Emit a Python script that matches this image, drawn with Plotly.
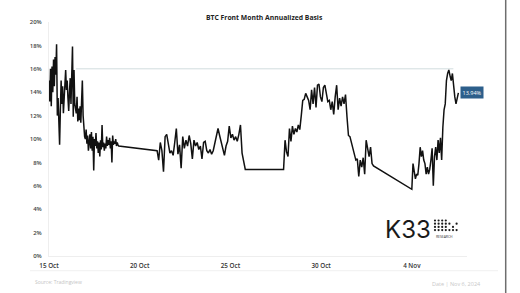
import pandas as pd
import plotly.graph_objects as go

# ---------------- data ----------------
seg1_start, seg1_end = "2024-10-15 00:00", "2024-10-18 20:15"
seg1_values = [15.0, 13.2, 16.0, 12.8, 16.2, 14.0, 16.8, 14.5, 17.0, 15.5, 18.1,
               12.0, 13.5, 11.0, 9.5, 12.5, 15.0, 13.0, 14.5, 12.2, 13.5,
               14.8, 15.9, 14.2, 15.0, 13.5, 12.4, 14.0, 15.2, 13.0, 16.5,
               17.9, 11.9, 15.9, 13.0, 12.7, 12.2, 13.6, 11.5, 12.6, 11.6,
               12.8, 11.4, 13.2, 15.0, 12.0, 10.7, 10.2, 10.0, 10.8, 9.6,
               10.3, 9.0, 9.7, 10.4, 9.2, 10.6, 9.0, 10.2, 7.3, 10.0,
               9.4, 10.5, 9.2, 9.8, 8.8, 9.7, 8.5, 9.9, 9.1, 11.2,
               9.3, 9.7, 9.0, 9.6, 9.2, 10.2, 9.4, 9.9, 9.5, 10.1,
               9.2, 9.8, 8.0, 10.3, 9.5, 9.8, 9.6, 10.0, 9.4, 9.7, 9.5, 9.4]

seg2_start, seg2_end = "2024-10-20 23:00", "2024-10-25 19:40"
seg2_values = [9.0, 8.2, 9.7, 9.0, 7.2, 10.2, 10.4, 9.6, 8.8, 9.0, 8.6, 9.7,
               10.9, 8.7, 9.5, 7.5, 10.2, 9.2, 9.9, 9.4, 10.3, 9.6, 8.3, 9.9,
               9.4, 9.7, 9.1, 9.4, 8.3, 9.7, 9.8, 9.0, 8.8, 9.1, 8.7, 9.0,
               9.7, 10.1, 10.9, 10.3, 9.7, 9.3, 8.6, 9.4, 9.8, 11.1, 10.1,
               10.4, 9.9, 10.2, 9.8, 10.4, 11.2, 8.8, 8.2, 7.4]

seg3_start, seg3_end = "2024-10-27 22:20", "2024-11-01 21:20"
seg3_values = [7.4, 9.9, 8.9, 8.5, 10.9, 9.8, 11.1, 10.4, 10.9, 10.6, 11.2,
               10.8, 12.0, 13.3, 13.4, 13.9, 13.6, 13.3, 12.5, 14.2, 13.0,
               14.4, 12.7, 14.6, 14.7, 13.6, 13.2, 14.4, 14.6, 13.7, 13.2,
               13.3, 12.5, 13.2, 12.1, 13.6, 14.6, 12.5, 13.5, 12.8, 13.6,
               13.0, 13.8, 11.9, 10.3, 10.2, 9.7, 9.2, 8.8, 8.2, 8.3, 6.8,
               8.2, 7.6, 8.4, 7.0, 9.9, 9.2, 8.5, 9.3, 7.9, 7.7]

seg4_start, seg4_end = "2024-11-04 00:00", "2024-11-06 13:36"
seg4_values = [5.7, 7.9, 7.1, 6.6, 7.0, 6.9, 7.9, 9.3, 8.5, 9.0, 8.2, 7.9,
               7.0, 7.6, 7.0, 7.4, 8.2, 9.2, 6.0, 8.5, 9.3, 8.2, 9.9, 8.8,
               10.1, 8.2, 11.0, 12.5, 13.0, 15.0, 15.6, 15.9, 15.4, 15.0,
               15.6, 14.5, 13.6, 13.0, 13.5, 13.94]

ref_level = 16.0
ref_start, ref_end = "2024-10-16 11:40", "2024-11-06 07:00"
last_label = "13.94%"

y_ticks = list(range(0, 21, 2))
y_tick_text = [f"{v}%" for v in y_ticks]
x_ticks = ["2024-10-15", "2024-10-20", "2024-10-25", "2024-10-30", "2024-11-04"]
x_tick_text = ["15 Oct", "20 Oct", "25 Oct", "30 Oct", "4 Nov"]
x_range = ["2024-10-15 00:00", "2024-11-07 01:00"]

title = "BTC Front Month Annualized Basis"
source = "Source: Tradingview"
date_note = "Date | Nov 6, 2024"

# logo dot pattern (rows of the K33 Research mark)
logo_rows = ["1111000", "1111101", "1111010", "1111111"]

# ---------------- build series ----------------
segs = [(seg1_start, seg1_end, seg1_values), (seg2_start, seg2_end, seg2_values),
        (seg3_start, seg3_end, seg3_values), (seg4_start, seg4_end, seg4_values)]
xs, ys = [], []
for s, e, v in segs:
    xs.extend(pd.date_range(s, e, periods=len(v)))
    ys.extend(v)

W, H = 520, 293
L, R, T, B = 49, 53, 22, 37
pw, ph = W - L - R, H - T - B


def px(x):
    return (x - L) / pw


def py(y):
    return 1 - (y - T) / ph


FONT = "Open Sans"

fig = go.Figure()
fig.add_trace(go.Scatter(x=xs, y=ys, mode="lines",
                         line=dict(color="#111111", width=1.5),
                         hoverinfo="skip", showlegend=False))

fig.add_shape(type="line", xref="x", yref="y", x0=ref_start, x1=ref_end,
              y0=ref_level, y1=ref_level,
              line=dict(color="#c5d3d6", width=0.8), layer="below")

# last value label
fig.add_annotation(x=xs[-1], y=ys[-1], xref="x", yref="y", text=last_label,
                   showarrow=False, xanchor="left", xshift=2,
                   bgcolor="#2d5f8b", borderpad=1.5,
                   font=dict(family=FONT, size=5.5, color="white"))

# title
fig.add_annotation(x=px(264), y=py(17), xref="paper", yref="paper",
                   text=title, showarrow=False, xanchor="center", yanchor="middle",
                   font=dict(family=FONT, size=6.8, color="#222222", weight=700))

fig.add_annotation(x=px(33), y=py(282), xref="paper", yref="paper", text=source,
                   showarrow=False, xanchor="left", yanchor="middle",
                   font=dict(family=FONT, size=5, color="#c4c4c4"))
fig.add_annotation(x=px(483), y=py(284), xref="paper", yref="paper", text=date_note,
                   showarrow=False, xanchor="right", yanchor="middle",
                   font=dict(family=FONT, size=5.5, color="#c8c8c8"))

# K33 logo
fig.add_annotation(x=px(383), y=py(229), xref="paper", yref="paper", text="K33",
                   showarrow=False, xanchor="left", yanchor="middle",
                   font=dict(family="Inter", size=24, color="#1a1a1a", weight=400))
dot_r = 1.1
for ri, row in enumerate(logo_rows):
    for ci, c in enumerate(row):
        if c == "1":
            cx = 435 + ci * 3.6
            cy = 220.5 + ri * 3.2
            fig.add_shape(type="circle", xref="paper", yref="paper",
                          x0=px(cx - dot_r), x1=px(cx + dot_r),
                          y0=py(cy + dot_r), y1=py(cy - dot_r),
                          fillcolor="#1a1a1a", line=dict(width=0))
fig.add_annotation(x=px(434), y=py(236.5), xref="paper", yref="paper", text="RESEARCH",
                   showarrow=False, xanchor="left", yanchor="middle",
                   font=dict(family=FONT, size=3.4, color="#333333"))

# separator & right edge
fig.add_shape(type="line", xref="paper", yref="paper", x0=px(30), x1=px(498),
              y0=py(270.7), y1=py(270.7), line=dict(color="#ececec", width=0.8))
fig.add_shape(type="line", xref="paper", yref="paper", x0=px(505.7), x1=px(505.7),
              y0=py(0), y1=py(293), line=dict(color="#6e6e6e", width=1.5))

fig.update_layout(
    width=W, height=H, margin=dict(l=L, r=R, t=T, b=B, pad=0),
    paper_bgcolor="white", plot_bgcolor="white",
    font=dict(family=FONT, size=6.5, color="#333333"),
    xaxis=dict(range=x_range, tickvals=x_ticks, ticktext=x_tick_text,
               showgrid=False, zeroline=False, showline=True, linecolor="#eeeeee",
               linewidth=1, ticks="", tickfont=dict(size=6.3, color="#333333", weight=600),
               ticklabelstandoff=3),
    yaxis=dict(range=[0, 20], tickvals=y_ticks, ticktext=y_tick_text,
               showgrid=False, zeroline=False, showline=True, linecolor="#eeeeee",
               linewidth=1, ticks="", tickfont=dict(size=6, color="#444444", weight=600),
               ticklabelstandoff=5),
    showlegend=False,
)

fig.write_html("out.html")
